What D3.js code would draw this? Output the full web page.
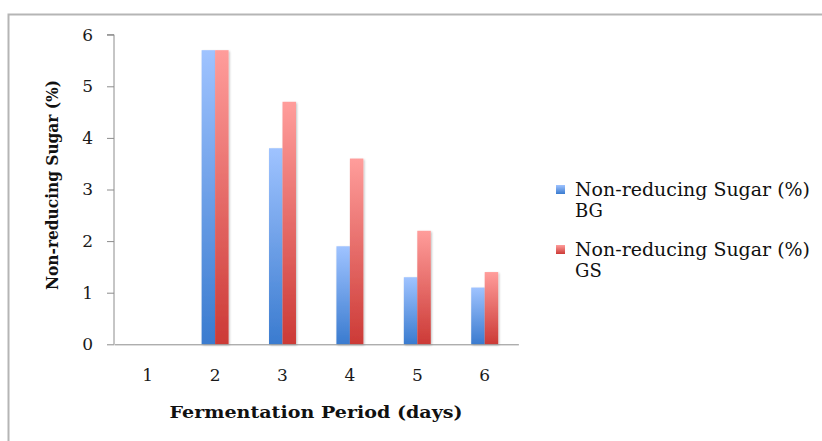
<!DOCTYPE html>
<html><head><meta charset="utf-8">
<script src="https://cdn.jsdelivr.net/npm/d3@7"></script>
<style>body{margin:0;background:#fff}svg{display:block}</style>
</head><body>
<svg id="c" width="822" height="441"></svg>
<script>
const categories = ["1","2","3","4","5","6"];
const seriesNames = ["Non-reducing Sugar (%) BG","Non-reducing Sugar (%) GS"];
const legendLines = [["Non-reducing Sugar (%)","BG"],["Non-reducing Sugar (%)","GS"]];
const bgValues = [0, 5.7, 3.8, 1.9, 1.3, 1.1];
const gsValues = [0, 5.7, 4.7, 3.6, 2.2, 1.4];
const yTicks = [0,1,2,3,4,5,6];
const xTitle = "Fermentation Period (days)";
const yTitle = "Non-reducing Sugar (%)";

const svg = d3.select("#c");
const font = "'DejaVu Serif', serif";
const m = {left:114, top:34.7, right:518.4, bottom:344.3};

// outer frame
svg.append("path").attr("d","M8.5,441 L8.5,14.5 L822,14.5")
  .attr("fill","none").attr("stroke","#b5b5b5").attr("stroke-width",2);

const defs = svg.append("defs");
const grads = [["gBlue","#9fc3ff","#3a7bcf"],["gRed","#ff9d9b","#cc3a36"]];
grads.forEach(([id,top,bot])=>{
  const g = defs.append("linearGradient").attr("id",id).attr("x1",0).attr("y1",0).attr("x2",0).attr("y2",1);
  g.append("stop").attr("offset","0%").attr("stop-color",top);
  g.append("stop").attr("offset","100%").attr("stop-color",bot);
});
const f = defs.append("filter").attr("id","sh").attr("x","-30%").attr("y","-10%").attr("width","160%").attr("height","120%");
f.append("feGaussianBlur").attr("in","SourceAlpha").attr("stdDeviation",1.2);
f.append("feOffset").attr("dx",0.5).attr("dy",0.5).attr("result","b");
f.append("feComponentTransfer").append("feFuncA").attr("type","linear").attr("slope",0.25);
const mg = f.append("feMerge"); mg.append("feMergeNode"); mg.append("feMergeNode").attr("in","SourceGraphic");

const x = d3.scaleBand().domain(categories).range([m.left,m.right]).paddingInner(0.6).paddingOuter(0.3);
const x0 = d3.scaleBand().domain(categories).range([m.left,m.right]);
const x1 = d3.scaleBand().domain([0,1]).range([0,x.bandwidth()]);
const y = d3.scaleLinear().domain([0,6]).range([m.bottom,m.top]);

// y axis
const ya = svg.append("g").attr("transform",`translate(${m.left},0)`)
  .call(d3.axisLeft(y).tickValues(yTicks).tickSize(7).tickPadding(14).tickFormat(d3.format("d")));
ya.select(".domain").attr("stroke","#8c8c8c").attr("d",`M-7,${m.top}H0V${m.bottom}`);
ya.selectAll(".tick line").attr("stroke","#8c8c8c");
ya.selectAll("text").attr("font-family",font).attr("font-size",17).attr("fill","#1a1a1a");

// bars
const data = categories.map((c,i)=>({c, v:[bgValues[i], gsValues[i]]}));
const groups = svg.append("g").selectAll("g").data(data).join("g")
  .attr("transform",d=>`translate(${x(d.c)},0)`);
groups.selectAll("rect").data(d=>d.v.map((v,k)=>({v,k}))).join("rect")
  .filter(d=>d.v>0)
  .attr("x",d=>x1(d.k)).attr("width",x1.bandwidth())
  .attr("y",d=>y(d.v)).attr("height",d=>y(0)-y(d.v))
  .attr("fill",d=>d.k===0?"url(#gBlue)":"url(#gRed)")
  .attr("filter","url(#sh)");

// x axis
const xa = svg.append("g").attr("transform",`translate(0,${m.bottom})`)
  .call(d3.axisBottom(x0).tickSize(0).tickPadding(25));
xa.select(".domain").attr("stroke","#8c8c8c");
xa.selectAll("text").attr("font-family",font).attr("font-size",17).attr("fill","#1a1a1a");

// titles
svg.append("text").attr("x",316).attr("y",418).attr("text-anchor","middle")
  .attr("font-family",font).attr("font-weight","bold").attr("font-size",17).attr("fill","#111")
  .attr("textLength",293).attr("lengthAdjust","spacingAndGlyphs").text(xTitle);
svg.append("text").attr("transform","translate(58,185) rotate(-90)").attr("text-anchor","middle")
  .attr("font-family",font).attr("font-weight","bold").attr("font-size",16).attr("fill","#111")
  .attr("textLength",210).attr("lengthAdjust","spacingAndGlyphs").text(yTitle);

// legend
const lg = svg.append("g").selectAll("g").data(seriesNames).join("g")
  .attr("transform",(d,i)=>`translate(556,${190+i*60})`);
lg.append("rect").attr("x",0).attr("y",-5).attr("width",9).attr("height",9)
  .attr("fill",(d,i)=>i===0?"url(#gBlue)":"url(#gRed)");
lg.each(function(d,i){
  const t = d3.select(this).append("text").attr("font-family",font).attr("font-size",18).attr("fill","#111");
  legendLines[i].forEach((ln,j)=>{
    const ts = t.append("tspan").attr("x",19).attr("y",6+j*21).text(ln);
    if(j===0) ts.attr("textLength",235).attr("lengthAdjust","spacingAndGlyphs");
  });
});
</script>
</body></html>
